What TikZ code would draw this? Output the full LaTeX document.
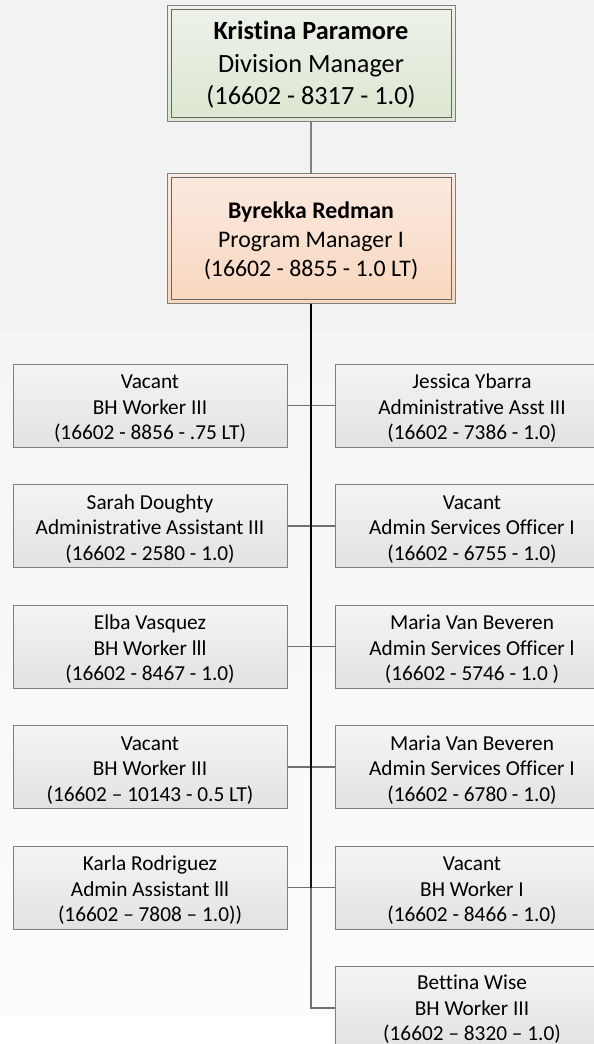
\documentclass[tikz,border=0pt]{standalone}
\usepackage{fontspec}
\setmainfont{Carlito}[Ligatures={TeX,NoCommon}]
\definecolor{bgtop}{HTML}{F2F2F2}
\definecolor{bgmid}{HTML}{F5F5F5}
\definecolor{bglow}{HTML}{FCFCFC}
\definecolor{boxline}{HTML}{7F7F7F}
\definecolor{gtop}{HTML}{F4F4F4}
\definecolor{gbot}{HTML}{E2E2E2}
\definecolor{greentop}{HTML}{EEF2EA}
\definecolor{greenbot}{HTML}{DCE6D1}
\definecolor{peachtop}{HTML}{FBEAE0}
\definecolor{peachbot}{HTML}{F8D7BF}
\newcommand\liftA{\rule{0pt}{20pt}}
\newcommand\liftB{\rule{0pt}{22.5pt}}
\newcommand\liftC{\rule{0pt}{17pt}}
\tikzset{
  posbox/.style={draw=boxline, line width=1pt, top color=gtop, bottom color=gbot,
    minimum width=274pt, minimum height=83pt, inner sep=0pt, align=center,
    font=\fontsize{21.3}{25.5}\selectfont},
  headbox/.style={draw=boxline, line width=1pt, minimum width=288pt, inner sep=0pt, align=center},
  innerframe/.style={draw=black!60, line width=0.9pt},
  topconn/.style={draw=black!50, line width=1.4pt},
  childconn/.style={draw=black, opacity=0.55, line width=1.3pt},
}
\begin{document}
\begin{tikzpicture}[x=1pt,y=-1pt]
\useasboundingbox (0,0) rectangle (594,1044);
\clip (0,0) rectangle (594,1044);
% background
\fill[bgtop] (0,0) rectangle (594,330);
\shade[top color=bgmid, bottom color=bglow] (0,330) rectangle (594,1017);
\fill[white] (0,1017) rectangle (594,1044);

% heads
\node[headbox, minimum height=116pt, top color=greentop, bottom color=greenbot,
      font=\fontsize{26.3}{32.5}\selectfont] (dm) at (311,63)
  {\liftB{\bfseries Kristina Paramore}\\Division Manager\\(16602 - 8317 - 1.0)};
\draw[innerframe] ([shift={(4.5pt,-4.5pt)}]dm.north west) rectangle ([shift={(-4.5pt,4.5pt)}]dm.south east);

\node[headbox, minimum height=130pt, top color=peachtop, bottom color=peachbot,
      font=\fontsize{23.8}{29}\selectfont] (pm) at (311,238)
  {\liftB{\bfseries Byrekka Redman}\\Program Manager I\\(16602 - 8855 - 1.0 LT)};
\draw[innerframe] ([shift={(4.5pt,-4.5pt)}]pm.north west) rectangle ([shift={(-4.5pt,4.5pt)}]pm.south east);

% left column
\node[posbox] (l1) at (150,405.5) {\liftA Vacant\\BH Worker III\\(16602 - 8856 - .75 LT)};
\node[posbox] (l2) at (150,526) {\liftA Sarah Doughty\\Administrative Assistant III\\(16602 - 2580 - 1.0)};
\node[posbox] (l3) at (150,646.5) {\liftA Elba Vasquez\\BH Worker lll\\(16602 - 8467 - 1.0)};
\node[posbox] (l4) at (150,767) {\liftA Vacant\\BH Worker III\\(16602 – 10143 - 0.5 LT)};
\node[posbox] (l5) at (150,887.5) {\liftA Karla Rodriguez\\Admin Assistant lll\\(16602 – 7808 – 1.0))};

% right column
\node[posbox] (r1) at (472,405.5) {\liftA Jessica Ybarra\\Administrative Asst III\\(16602 - 7386 - 1.0)};
\node[posbox] (r2) at (472,526) {\liftA Vacant\\Admin Services Officer I\\(16602 - 6755 - 1.0)};
\node[posbox] (r3) at (472,646.5) {\liftA Maria Van Beveren\\Admin Services Officer l\\(16602 - 5746 - 1.0 )};
\node[posbox] (r4) at (472,767) {\liftA Maria Van Beveren\\Admin Services Officer I\\(16602 - 6780 - 1.0)};
\node[posbox] (r5) at (472,887.5) {\liftA Vacant\\BH Worker I\\(16602 - 8466 - 1.0)};
\node[posbox] (r6) at (472,1008) {\liftC Bettina Wise\\BH Worker III\\(16602 – 8320 – 1.0)};

% connectors
\draw[topconn] (dm.south) -- (pm.north);
\foreach \c in {l1,l2,l3,l4,l5} {\draw[childconn] (pm.south) |- (\c.east);}
\foreach \c in {r1,r2,r3,r4,r5,r6} {\draw[childconn] (pm.south) |- (\c.west);}
\end{tikzpicture}
\end{document}
